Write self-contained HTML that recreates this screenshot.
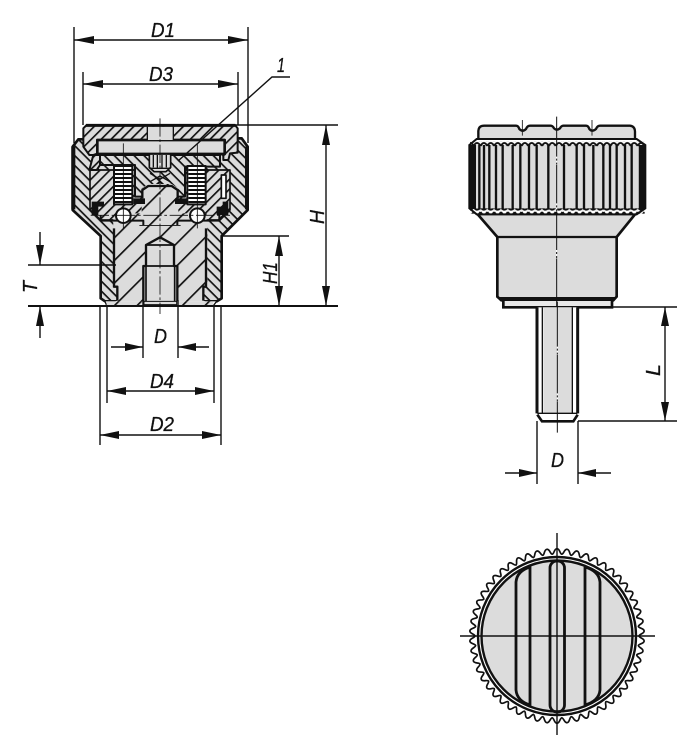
<!DOCTYPE html>
<html><head><meta charset="utf-8"><style>
html,body{margin:0;padding:0;background:#fff}
svg{display:block}
text{font-family:"Liberation Sans",sans-serif;font-style:italic;font-size:20px;fill:#111;stroke:#111;stroke-width:.3px}
</style></head><body>
<svg width="696" height="750" viewBox="0 0 696 750" xmlns="http://www.w3.org/2000/svg">
<defs>
<pattern id="hA" width="21" height="21" patternUnits="userSpaceOnUse" patternTransform="rotate(45)"><rect width="21" height="21" fill="#dcdcdc"/><rect width="21" height="5" fill="#111"/></pattern>
<pattern id="hB" width="21" height="21" patternUnits="userSpaceOnUse" patternTransform="rotate(-45)"><rect width="21" height="21" fill="#dcdcdc"/><rect width="21" height="5" fill="#111"/></pattern>
<pattern id="hC" width="48" height="48" patternUnits="userSpaceOnUse" patternTransform="rotate(-45)"><rect width="48" height="48" fill="#dcdcdc"/><rect width="48" height="5" fill="#111"/></pattern>
<pattern id="wave" width="20.5" height="16" patternUnits="userSpaceOnUse"><path d="M0 13Q10 -5 20.5 13" fill="none" stroke="#111" stroke-width="6"/></pattern>
<pattern id="waveB" width="20.5" height="16" patternUnits="userSpaceOnUse"><path d="M0 3Q10 21 20.5 3" fill="none" stroke="#111" stroke-width="6"/></pattern>
<path id="tooth" d="M-4.950 -81.800C-2.800 -81.800 -3 -87.300 0 -87.300C3 -87.300 2.800 -81.800 4.950 -81.800" fill="none" stroke="#111" stroke-width="1.700"/>
<g id="t9">
<use href="#tooth"/>
<use href="#tooth" transform="rotate(6.667)"/>
<use href="#tooth" transform="rotate(13.333)"/>
<use href="#tooth" transform="rotate(20)"/>
<use href="#tooth" transform="rotate(26.667)"/>
<use href="#tooth" transform="rotate(33.333)"/>
<use href="#tooth" transform="rotate(40)"/>
<use href="#tooth" transform="rotate(46.667)"/>
<use href="#tooth" transform="rotate(53.333)"/>
</g>
</defs>

<!-- LEFT SECTION -->
<g transform="translate(60,110) scale(.33333)" stroke-linejoin="round">
<path d="M55 88L38 110V300L122 378V565L135 574H470L485 565V378L563 300V110L545 85Z" fill="url(#hA)" stroke="#111" stroke-width="8"/>
<path d="M40 110V298M561 110V298" stroke="#111" stroke-width="12"/>
<path d="M160 340V530H172V572L140 585H462L430 572V530H442V340Z" fill="url(#hC)" stroke="none"/>
<path d="M162 355V532M438 355V532" stroke="#111" stroke-width="7" fill="none"/>
<path d="M160 530H172V572M440 530H430V572" stroke="#111" stroke-width="7" fill="none"/>
<!-- inner carriers -->
<path d="M90 180H510V300L480 330H360V345H240V330H122L90 300Z" fill="url(#hB)" stroke="#111" stroke-width="5"/>
<path d="M120 135H480V170H375V260H350L300 215L250 260H225V165H120Z" fill="url(#hA)" stroke="#111" stroke-width="6"/>
<!-- central boss -->
<path d="M160 345V310H245V235L265 222H335L355 235V310H440V345Z" fill="url(#hC)" stroke="none"/>
<path d="M247 265V240L265 228H335L353 240V265" fill="none" stroke="#111" stroke-width="7"/>
<!-- springs -->
<rect x="162" y="168" width="55" height="115" fill="#fff" stroke="#111" stroke-width="6"/>
<rect x="382" y="168" width="55" height="115" fill="#fff" stroke="#111" stroke-width="6"/>
<path d="M165 180H215M165 192H215M165 204H215M165 216H215M165 228H215M165 240H215M165 252H215M165 264H215M165 276H215M385 180H435M385 192H435M385 204H435M385 216H435M385 228H435M385 240H435M385 252H435M385 264H435M385 276H435" stroke="#111" stroke-width="6"/>
<!-- side washers -->
<path d="M95 275H132V290H115V315H95ZM470 290H488V275H505V315H470Z" fill="#111"/>
<path d="M220 265H255V282H220ZM345 265H380V282H345Z" fill="#111"/>
<path d="M122 315V332H250V345M478 315V332H352V345" fill="none" stroke="#111" stroke-width="6"/>
<!-- balls -->
<circle cx="190" cy="317" r="22" fill="#fff" stroke="#111" stroke-width="6"/>
<circle cx="412" cy="317" r="22" fill="#fff" stroke="#111" stroke-width="6"/>
<rect x="484" y="195" width="14" height="70" fill="#fff" stroke="#111" stroke-width="5"/>
<!-- cap -->
<path d="M70 55L80 45H525L533 55V128L510 130L505 150H490V92H115V130L100 135L88 180H110L120 165V135L88 135L70 110Z" fill="url(#hB)" stroke="#111" stroke-width="6"/>
<rect x="112" y="90" width="382" height="42" fill="#dcdcdc" stroke="#111" stroke-width="8"/>
<rect x="262" y="50" width="78" height="40" fill="#dcdcdc"/>
<path d="M262 50V90M340 50V90" stroke="#111" stroke-width="4"/>
<path d="M78 46H526" stroke="#111" stroke-width="9"/>
<!-- screw -->
<path d="M268 132H332V172L318 185H282L268 172Z" fill="#dcdcdc" stroke="#111" stroke-width="5"/>
<path d="M280 135V172M292 135V175M306 135V175M319 135V172M268 175H332" stroke="#111" stroke-width="4"/>
<path d="M270 190L300 208L330 190M270 215L300 198L330 215" stroke="#111" stroke-width="4" fill="none"/>
<!-- bottom hole -->
<path d="M258 405L300 382L342 405V468H352V578H250V468H258Z" fill="#dcdcdc" stroke="#111" stroke-width="7"/>
<path d="M258 405H342M250 468H352M258 470V575M344 470V575" fill="none" stroke="#111" stroke-width="5"/>
<path d="M135 574L140 587H460L470 574" fill="#fff" stroke="#111" stroke-width="4"/>
<path d="M140 574H460V585H140Z" fill="url(#hC)"/>
<path d="M252 574H350V584H252Z" fill="#dcdcdc" stroke="#111" stroke-width="3"/>
<!-- center lines -->
<path d="M300 25V612" stroke="#111" stroke-width="2.500" stroke-dasharray="55 8 8 8"/>
<path d="M190 100V355M412 100V355" stroke="#111" stroke-width="2.500"/>
<path d="M92 316H510" stroke="#111" stroke-width="2.500" stroke-dasharray="55 8 8 8"/>
</g>

<!-- LEFT DIMENSIONS -->
<g stroke="#111" stroke-width="1.400" fill="none">
<path d="M74 27V143M248 27V143M83 72V125M238 72V125M74 40H248M83 84H238"/>
<path d="M290 77H272L178 161"/>
<path d="M218 125H338M222 236H289M28 265H116"/>
<path d="M326 125V306M279 236V306M40 232V265M40 306V338"/>
<path d="M100 306V445M221 306V445M107 306V403M214 306V403M143 300V358M178 300V358"/>
<path d="M111 347H143M178 347H209M107 391H214M100 435H221"/>
</g>
<path d="M28 306H338" stroke="#111" stroke-width="2"/>
<g fill="#111">
<path d="M74 40L94 36V44ZM248 40L228 36V44ZM83 84L103 80V88ZM238 84L218 80V88Z"/>
<path d="M326 125L322 145H330ZM326 306L322 286H330ZM279 236L275 256H283ZM279 306L275 286H283Z"/>
<path d="M40 265L36 245H44ZM40 306L36 326H44Z"/>
<path d="M143 347L125 343V351ZM178 347L196 343V351ZM107 391L126 387V395ZM214 391L195 387V395ZM100 435L119 431V439ZM221 435L202 431V439Z"/>
</g>
<text x="151" y="37" textLength="24" lengthAdjust="spacingAndGlyphs">D1</text>
<text x="149" y="81" textLength="24" lengthAdjust="spacingAndGlyphs">D3</text>
<text x="154" y="343" textLength="13" lengthAdjust="spacingAndGlyphs">D</text>
<text x="150" y="388" textLength="24" lengthAdjust="spacingAndGlyphs">D4</text>
<text x="150" y="431" textLength="24" lengthAdjust="spacingAndGlyphs">D2</text>
<text x="277" y="72" textLength="8" lengthAdjust="spacingAndGlyphs">1</text>
<text transform="translate(324,224) rotate(-90)" textLength="14" lengthAdjust="spacingAndGlyphs">H</text>
<text transform="translate(277,284) rotate(-90)" textLength="22" lengthAdjust="spacingAndGlyphs">H1</text>
<text transform="translate(37,293) rotate(-90)" textLength="12" lengthAdjust="spacingAndGlyphs">T</text>

<!-- RIGHT SIDE VIEW -->
<g transform="translate(460,115) scale(.33333)">
<path d="M55 75V48Q56 32 72 32H168Q175 32 178 42Q188 52 198 42Q202 32 210 32H272Q278 32 282 40Q290 48 300 40Q304 32 310 32H378Q385 32 388 42Q396 52 408 42Q412 32 420 32H510Q525 34 525 50V75Z" fill="#dcdcdc" stroke="#111" stroke-width="7"/>
<path d="M48 292L112 366V545L124 556H460L470 545V366L530 292Z" fill="#dcdcdc" stroke="#111" stroke-width="8"/>
<path d="M112 366H470" stroke="#111" stroke-width="7"/>
<path d="M118 551H464" stroke="#111" stroke-width="10"/>
<path d="M130 558V577H456V558" fill="#e8e8e8" stroke="#111" stroke-width="8"/>
<path d="M28 90L50 72H530L556 90V280L530 298H50L28 280Z" fill="#fff" stroke="#111" stroke-width="6"/>
<rect x="46" y="90" width="488" height="196" fill="#dcdcdc"/>
<rect x="28" y="90" width="20" height="192" fill="#111"/>
<rect x="536" y="90" width="20" height="192" fill="#111"/>
<path d="M58 90V284M72 90V284M88 90V284M108 90V284M128 90V284M158 90V284M181 90V284M207 90V284M230 90V284M265 90V284M312 90V284M350 90V284M372 90V284M400 90V284M430 90V284M450 90V284M470 90V284M495 90V284M515 90V284" stroke="#111" stroke-width="7"/>
<rect x="30" y="78" width="524" height="16" fill="url(#wave)"/>
<rect x="30" y="280" width="524" height="16" fill="url(#waveB)"/>
<path d="M50 72H530" stroke="#111" stroke-width="5"/>
<path d="M50 298H530" stroke="#111" stroke-width="5"/>
<path d="M187 15V62M396 15V62" stroke="#111" stroke-width="2.500"/>
<path d="M290 5V600" stroke="#111" stroke-width="3"/>
<path d="M290 125V150M290 265V290M290 405V430" stroke="#fff" stroke-width="4" stroke-dasharray="6 6"/>
</g>

<!-- Stud -->
<g transform="translate(500,300) scale(.33333)">
<rect x="112" y="22" width="120" height="322" fill="#fff" stroke="none"/>
<rect x="130" y="22" width="85" height="316" fill="#dcdcdc"/>
<path d="M111 22V340M233 22V340" stroke="#111" stroke-width="9" fill="none"/>
<path d="M127 22V340M217 22V340" stroke="#111" stroke-width="4" fill="none"/>
<path d="M112 340H232" stroke="#111" stroke-width="4"/>
<path d="M112 344L126 364H220L233 344" fill="#fff" stroke="#111" stroke-width="8"/>
<path d="M172 5V398" stroke="#111" stroke-width="3"/>
<path d="M172 140V165M172 280V305" stroke="#fff" stroke-width="4" stroke-dasharray="6 6"/>
</g>

<!-- RIGHT DIMENSIONS -->
<g stroke="#111" stroke-width="1.400" fill="none">
<path d="M612 307H677M578 421H677M665 307V421M537 421V484M578 421V484M505 473H537M578 473H611"/>
</g>
<g fill="#111">
<path d="M665 307L661 326H669ZM665 421L661 402H669ZM537 473L519 469V477ZM578 473L596 469V477Z"/>
</g>
<text x="551" y="467" textLength="13" lengthAdjust="spacingAndGlyphs">D</text>
<text transform="translate(660,376) rotate(-90)" textLength="12" lengthAdjust="spacingAndGlyphs">L</text>

<!-- TOP VIEW -->
<g>
<g transform="translate(557,636)">
<use href="#t9"/>
<use href="#t9" transform="rotate(60)"/>
<use href="#t9" transform="rotate(120)"/>
<use href="#t9" transform="rotate(180)"/>
<use href="#t9" transform="rotate(240)"/>
<use href="#t9" transform="rotate(300)"/>
</g>
<circle cx="557" cy="636" r="79" fill="#fff" stroke="#111" stroke-width="2.400"/>
<circle cx="557" cy="636" r="75.500" fill="#dcdcdc" stroke="#111" stroke-width="2.400"/>
<g fill="none" stroke="#111" stroke-width="2.800">
<path d="M516 582Q517 571 530 567V705Q517 701 516 690Z"/>
<rect x="550" y="561" width="14.500" height="151" rx="7"/>
<path d="M585 567Q599 571 600 582V690Q599 701 585 705Z"/>
</g>
<path d="M460 636H655" stroke="#111" stroke-width="1.400"/>
<path d="M557 533V735" stroke="#111" stroke-width="1.400"/>
</g>
</svg>
</body></html>
